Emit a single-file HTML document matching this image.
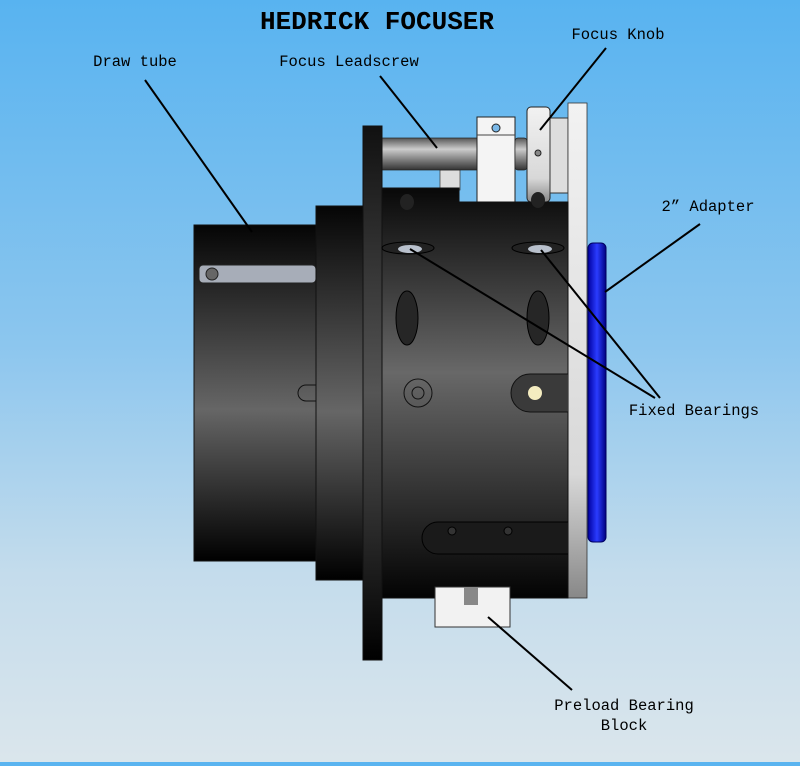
<!DOCTYPE html>
<html><head><style>
body{margin:0;width:800px;height:766px;overflow:hidden;background:linear-gradient(#58b3f0 0%,#8cc6ee 45%,#c4dcec 75%,#dbe6ec 100%);font-family:"Liberation Mono",monospace;}
svg{position:absolute;left:0;top:0}
</style></head><body>
<svg width="800" height="766" viewBox="0 0 800 766">
<defs>
<linearGradient id="cyl" x1="0" y1="0" x2="0" y2="1">
<stop offset="0" stop-color="#050505"/><stop offset="0.55" stop-color="#666"/><stop offset="1" stop-color="#000"/></linearGradient>
<linearGradient id="body" x1="0" y1="0" x2="0" y2="1">
<stop offset="0" stop-color="#080808"/><stop offset="0.45" stop-color="#686868"/><stop offset="1" stop-color="#030303"/></linearGradient>
<linearGradient id="fl" x1="0" y1="0" x2="0" y2="1">
<stop offset="0" stop-color="#111"/><stop offset="0.5" stop-color="#555"/><stop offset="1" stop-color="#000"/></linearGradient>
<linearGradient id="rod" x1="0" y1="0" x2="0" y2="1">
<stop offset="0" stop-color="#555"/><stop offset="0.35" stop-color="#ccc"/><stop offset="1" stop-color="#333"/></linearGradient>
<linearGradient id="plate" x1="0" y1="0" x2="0" y2="1">
<stop offset="0" stop-color="#f2f2f2"/><stop offset="0.75" stop-color="#d8d8d8"/><stop offset="1" stop-color="#888"/></linearGradient>
<linearGradient id="blue" x1="0" y1="0" x2="1" y2="0">
<stop offset="0" stop-color="#0000a0"/><stop offset="0.5" stop-color="#2a3cff"/><stop offset="1" stop-color="#000080"/></linearGradient>
</defs>
<rect x="0" y="762" width="800" height="4" fill="#5ab4f0"/>
<rect x="440" y="170" width="20" height="20" fill="#ddd" stroke="#333" stroke-width="0.7"/>
<rect x="382" y="138" width="98" height="32" fill="url(#rod)" stroke="#222" stroke-width="0.7"/>
<rect x="477" y="117" width="38" height="85" fill="#f4f4f4" stroke="#222"/>
<line x1="477" y1="135" x2="515" y2="135" stroke="#444"/>
<circle cx="496" cy="128" r="4" fill="#7ab8e8" stroke="#222"/>
<rect x="515" y="138" width="12" height="32" rx="3" fill="url(#rod)" stroke="#222" stroke-width="0.7"/>
<rect x="527" y="107" width="23" height="95" rx="4" fill="url(#plate)" stroke="#222"/>
<circle cx="538" cy="153" r="3" fill="#888" stroke="#222"/>
<rect x="550" y="118" width="18" height="75" fill="#ddd" stroke="#333"/>
<rect x="588" y="243" width="18" height="299" rx="5" fill="url(#blue)" stroke="#000060"/>
<rect x="568" y="103" width="19" height="495" fill="url(#plate)" stroke="#333" stroke-width="0.8"/>
<rect x="194" y="225" width="122" height="336" fill="url(#cyl)" stroke="#111"/>
<rect x="199" y="265" width="117" height="18" rx="4" fill="#a7adb8" stroke="#222"/>
<circle cx="212" cy="274" r="6" fill="#666" stroke="#222"/>
<rect x="316" y="206" width="47" height="374" fill="url(#cyl)" stroke="#111"/>
<path d="M316 385 h-10 a6 6 0 0 0 0 16 h10" fill="none" stroke="#111"/>
<path d="M382 188 H459 V202 H568 V598 H382 Z" fill="url(#body)" stroke="#111"/>
<rect x="363" y="126" width="19" height="534" fill="url(#fl)" stroke="#111"/>
<ellipse cx="408" cy="248" rx="26" ry="6" fill="#222" stroke="#000"/>
<ellipse cx="410" cy="249" rx="12" ry="4" fill="#b8c0cc"/>
<ellipse cx="538" cy="248" rx="26" ry="6" fill="#222" stroke="#000"/>
<ellipse cx="540" cy="249" rx="12" ry="4" fill="#b8c0cc"/>
<ellipse cx="407" cy="318" rx="11" ry="27" fill="#262626" stroke="#000"/>
<ellipse cx="538" cy="318" rx="11" ry="27" fill="#262626" stroke="#000"/>
<ellipse cx="407" cy="202" rx="7" ry="8" fill="#222"/>
<ellipse cx="538" cy="200" rx="7" ry="8" fill="#222"/>
<circle cx="418" cy="393" r="14" fill="none" stroke="#111"/>
<circle cx="418" cy="393" r="6" fill="none" stroke="#111"/>
<path d="M568 374 H530 a19 19 0 0 0 0 38 H568" fill="#3a3a3a" stroke="#111"/>
<circle cx="535" cy="393" r="7" fill="#f4ecc0"/>
<path d="M568 522 H438 a16 16 0 0 0 0 32 H568" fill="#1a1a1a" stroke="#000"/>
<circle cx="452" cy="531" r="4" fill="#333" stroke="#000"/>
<circle cx="508" cy="531" r="4" fill="#333" stroke="#000"/>
<rect x="435" y="587" width="75" height="40" fill="#f2f2f2" stroke="#333"/>
<rect x="464" y="587" width="14" height="18" fill="#888"/>
<g stroke="#000" stroke-width="2" fill="none">
<line x1="145" y1="80" x2="252" y2="232"/>
<line x1="380" y1="76" x2="437" y2="148"/>
<line x1="606" y1="48" x2="540" y2="130"/>
<line x1="700" y1="224" x2="605" y2="292"/>
<line x1="410" y1="249" x2="655" y2="398"/>
<line x1="541" y1="250" x2="660" y2="398"/>
<line x1="488" y1="617" x2="572" y2="690"/>
</g>
<g font-family="Liberation Mono, monospace" font-size="15.5" fill="#000">
<text x="377" y="29" text-anchor="middle" font-size="26" font-weight="bold">HEDRICK FOCUSER</text>
<text x="135" y="66" text-anchor="middle">Draw tube</text>
<text x="349" y="66" text-anchor="middle">Focus Leadscrew</text>
<text x="618" y="39" text-anchor="middle">Focus Knob</text>
<text x="708" y="211" text-anchor="middle">2” Adapter</text>
<text x="694" y="415" text-anchor="middle">Fixed Bearings</text>
<text x="624" y="710" text-anchor="middle">Preload Bearing</text>
<text x="624" y="730" text-anchor="middle">Block</text>
</g>
</svg>
</body></html>
